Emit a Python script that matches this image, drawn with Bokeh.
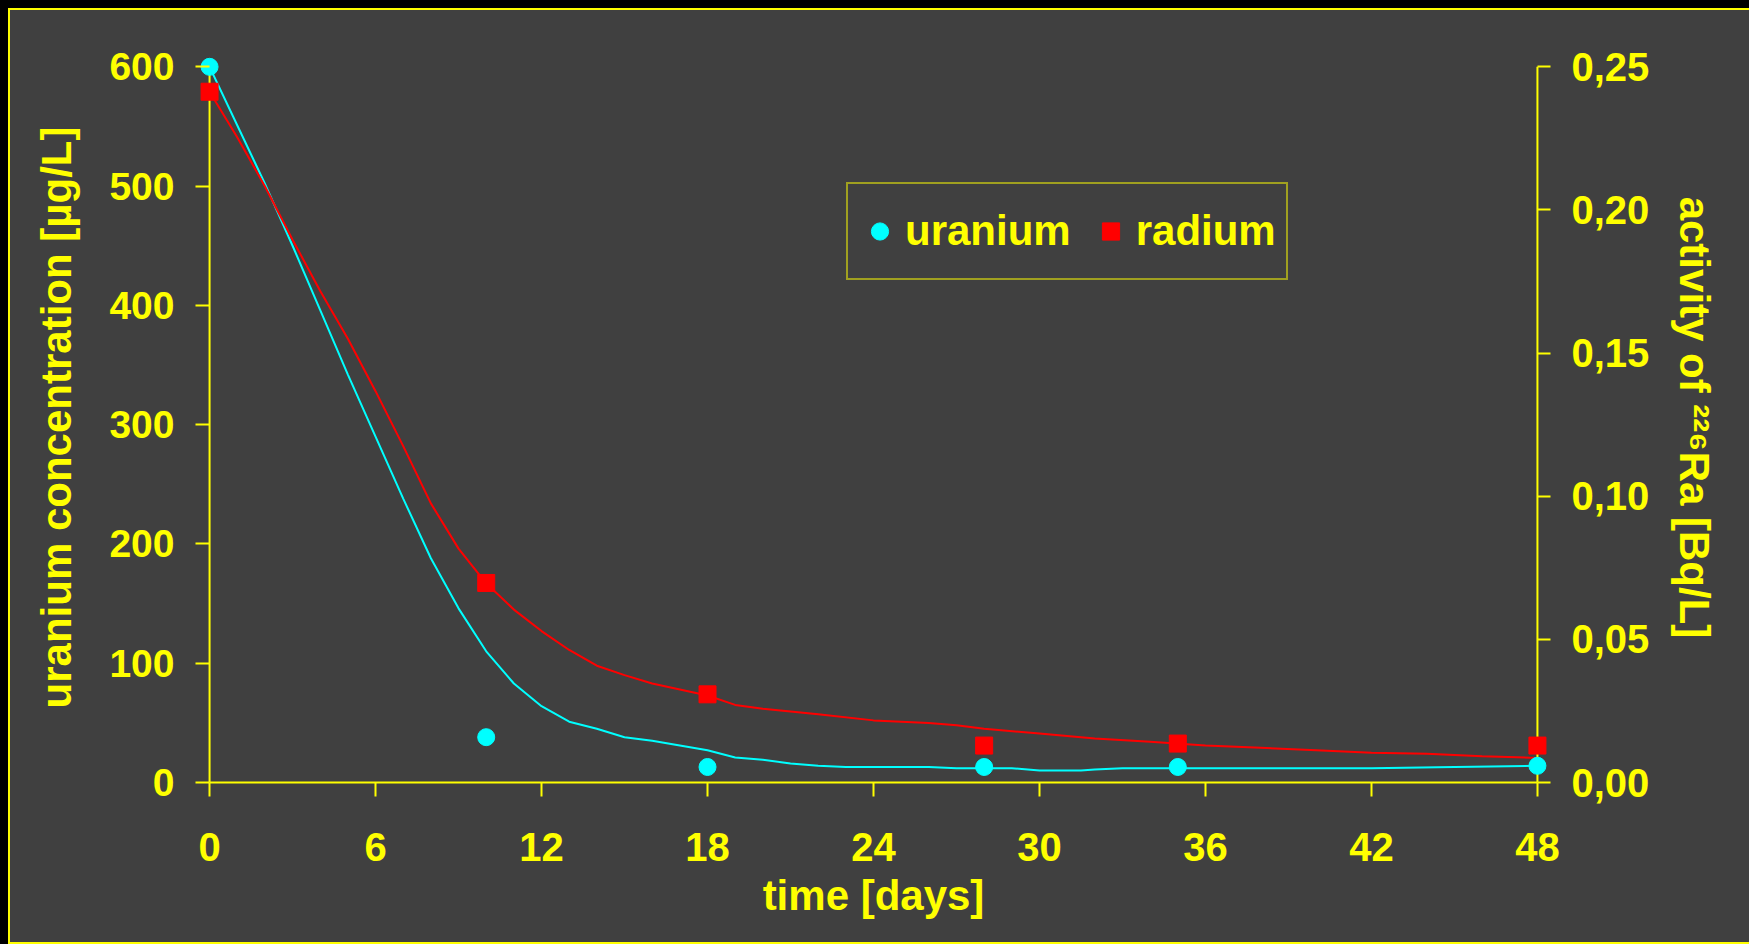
from bokeh.plotting import figure
from bokeh.models import (Range1d, LinearAxis, FixedTicker, CustomJSTickFormatter,
                          GlobalInlineStyleSheet)
from bokeh.embed import file_html
from bokeh.resources import INLINE

# measured points
days_u = [0, 10, 18, 28, 35, 48]
uranium = [600, 38, 13, 13, 13, 14]
days_r = [0, 10, 18, 28, 35, 48]
radium = [0.2413, 0.0697, 0.0308, 0.0129, 0.0136, 0.0129]

# fitted curves
fit_u_days = [0, 1, 2, 3, 4, 5, 6, 7, 8, 9, 10, 11, 12, 13, 14, 15, 16, 17, 18, 19,
              20, 21, 22, 23, 24, 26, 27, 28, 29, 30, 31, 31.5, 32, 33, 36, 40, 42, 45, 48]
fit_u = [600, 551, 502, 450, 396, 342, 290, 238, 188, 146, 110, 83, 64, 51, 45, 38, 35, 31, 27, 21,
         19, 16, 14, 13, 13, 13, 12, 12, 12, 10, 10, 10, 11, 12, 12, 12, 12, 13, 14]
fit_r_days = [0, 1, 2, 3, 4, 5, 6, 7, 8, 9, 10, 11, 12, 13, 14, 15, 16, 17, 18, 19,
              20, 22, 24, 26, 27, 28, 30, 32, 34, 36, 38, 40, 42, 44, 46, 48]
fit_r = [0.2413, 0.2254, 0.2083, 0.1896, 0.1717, 0.155, 0.1367, 0.1175, 0.0975, 0.0817,
         0.0696, 0.0604, 0.0529, 0.0463, 0.0408, 0.0375, 0.0346, 0.0325, 0.0304, 0.0271,
         0.0258, 0.0238, 0.0217, 0.0208, 0.02, 0.0188, 0.0171, 0.0154, 0.0142, 0.0129,
         0.0121, 0.0113, 0.0104, 0.01, 0.0092, 0.0086]

x_ticks = [0, 6, 12, 18, 24, 30, 36, 42, 48]
y_ticks = [0, 100, 200, 300, 400, 500, 600]
y2_ticks = [0, 0.05, 0.10, 0.15, 0.20, 0.25]

YEL = "#FFFF00"
BG = "#404040"
FONT = "Liberation Sans"

p = figure(width=1739, height=932,
           x_range=Range1d(-0.4, 48.4), y_range=Range1d(0, 612),
           output_backend="svg", toolbar_location=None,
           x_axis_location=None, y_axis_location=None,
           min_border_left=188, min_border_right=201,
           min_border_top=42, min_border_bottom=160,
           background_fill_color=BG, background_fill_alpha=0,
           border_fill_color=BG, outline_line_color=None)
p.extra_y_ranges = {"ra": Range1d(0, 612 / 2400)}
p.styles = {"outline": "2px solid #FFFF00", "margin-left": "10px", "margin-top": "10px",
            "background-color": BG}
p.stylesheets = [GlobalInlineStyleSheet(css="body { background-color: #000000; }")]
p.xgrid.visible = False
p.ygrid.visible = False


def style_axis(ax, tick_size, standoff, label_standoff):
    ax.axis_line_color = YEL
    ax.axis_line_width = 2
    ax.major_tick_line_color = YEL
    ax.major_tick_line_width = 2
    ax.major_tick_in = 0
    ax.major_tick_out = 14
    ax.minor_tick_line_color = None
    ax.major_label_text_color = YEL
    ax.major_label_text_font = FONT
    ax.major_label_text_font_style = "bold"
    ax.major_label_text_font_size = tick_size
    ax.major_label_standoff = standoff
    ax.axis_label_text_color = YEL
    ax.axis_label_text_font = FONT
    ax.axis_label_text_font_style = "bold"
    ax.axis_label_text_font_size = "42px"
    ax.axis_label_standoff = label_standoff


xaxis = LinearAxis(ticker=FixedTicker(ticks=x_ticks), bounds=(0, 48), axis_label="time [days]")
style_axis(xaxis, "40px", 36, 8)
p.add_layout(xaxis, "below")

yaxis = LinearAxis(ticker=FixedTicker(ticks=y_ticks), axis_label="uranium concentration [µg/L]")
style_axis(yaxis, "39px", 21, 26)
yaxis.axis_line_color = None
yaxis.major_tick_in = 11
yaxis.major_tick_out = 3
p.add_layout(yaxis, "left")

y2axis = LinearAxis(y_range_name="ra", ticker=FixedTicker(ticks=y2_ticks),
                    axis_label="activity of ²²⁶Ra [Bq/L]",
                    formatter=CustomJSTickFormatter(code="return tick.toFixed(2).replace('.', ',');"))
style_axis(y2axis, "40px", 21, 19)
y2axis.axis_line_color = None
y2axis.major_tick_in = 11
y2axis.major_tick_out = 2
p.add_layout(y2axis, "right")

# axis lines at x = 0 and x = 48
p.segment(x0=[x_ticks[0]], y0=[y_ticks[0]], x1=[x_ticks[0]], y1=[y_ticks[-1]],
          line_color=YEL, line_width=2)
p.segment(x0=[x_ticks[-1]], y0=[y2_ticks[0]], x1=[x_ticks[-1]], y1=[y2_ticks[-1]],
          line_color=YEL, line_width=2, y_range_name="ra")

p.line(fit_u_days, fit_u, line_color="#00FFFF", line_width=2)
p.line(fit_r_days, fit_r, line_color="#FF0000", line_width=2, y_range_name="ra")
p.scatter(days_u, uranium, marker="circle", size=17, fill_color="#00FFFF", line_color="#00FFFF",
          legend_label="uranium")
p.scatter(days_r, radium, marker="square", size=17, fill_color="#FF0000", line_color="#FF0000",
          y_range_name="ra", legend_label="radium")

lg = p.legend[0]
lg.orientation = "horizontal"
lg.location = (648, 502)
lg.margin = 0
lg.padding = 10
lg.spacing = 18
lg.glyph_width = 43
lg.glyph_height = 74
lg.label_height = 74
lg.label_standoff = 4
lg.label_text_font = FONT
lg.label_text_font_style = "bold"
lg.label_text_font_size = "42px"
lg.label_text_color = YEL
lg.border_line_color = YEL
lg.border_line_width = 2
lg.background_fill_color = BG
lg.background_fill_alpha = 1

open("out.html", "w").write(file_html(p, INLINE))
